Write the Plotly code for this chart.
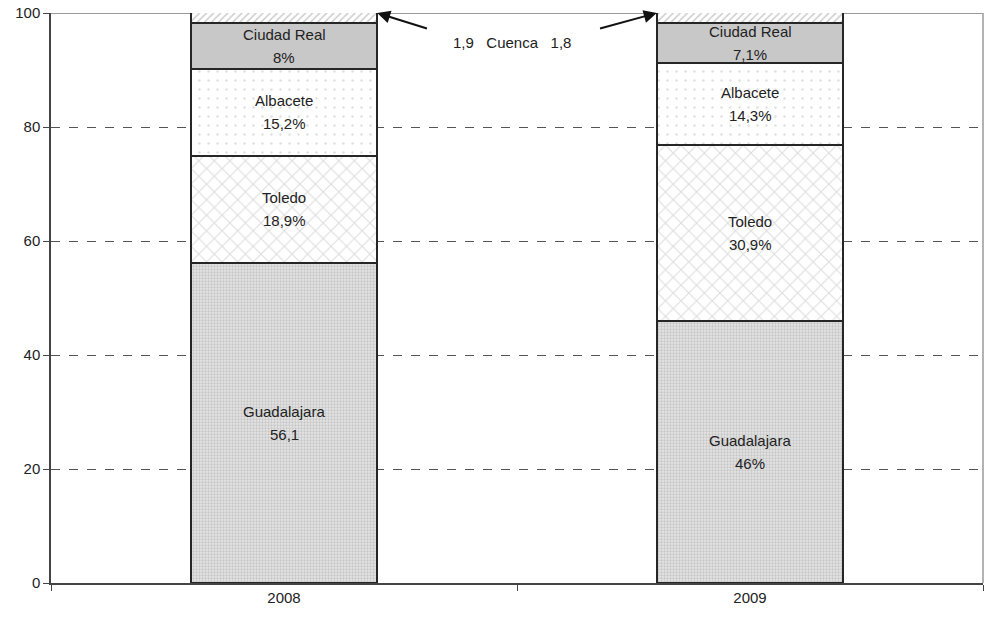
import plotly.graph_objects as go

years = ["2008", "2009"]
provinces = ["Guadalajara", "Toledo", "Albacete", "Ciudad Real", "Cuenca"]
values = {
    "Guadalajara": [56.1, 46.0],
    "Toledo": [18.9, 30.9],
    "Albacete": [15.2, 14.3],
    "Ciudad Real": [8.0, 7.1],
    "Cuenca": [1.9, 1.8],
}
name_text = {
    "Guadalajara": ["Guadalajara", "Guadalajara"],
    "Toledo": ["Toledo", "Toledo"],
    "Albacete": ["Albacete", "Albacete"],
    "Ciudad Real": ["Ciudad Real", "Ciudad Real"],
}
value_text = {
    "Guadalajara": ["56,1", "46%"],
    "Toledo": ["18,9%", "30,9%"],
    "Albacete": ["15,2%", "14,3%"],
    "Ciudad Real": ["8%", "7,1%"],
}
y_ticks = [0, 20, 40, 60, 80, 100]

FONT = "Liberation Sans, Arial"
LFONT = dict(family=FONT, size=15, color="#222")

styles = {
    "Guadalajara": dict(color="#dcdcdc", pattern=dict(shape=".", fgcolor="#a8a8a8", bgcolor="#e4e4e4", size=3, solidity=0.45)),
    "Toledo": dict(color="white", pattern=dict(shape="x", fgcolor="#bdbdbd", bgcolor="white", size=11, solidity=0.2)),
    "Albacete": dict(color="white", pattern=dict(shape=".", fgcolor="#c0c0c0", bgcolor="white", size=9, solidity=0.06)),
    "Ciudad Real": dict(color="#c8c8c8"),
    "Cuenca": dict(color="white", pattern=dict(shape="/", fgcolor="#9a9a9a", bgcolor="white", size=5, solidity=0.3)),
}

fig = go.Figure()
for p in provinces:
    fig.add_trace(go.Bar(
        x=years, y=values[p], name=p, width=0.4,
        marker=dict(line=dict(color="#262626", width=2), **styles[p]),
        hoverinfo="skip",
    ))

annotations = []
base = [0.0, 0.0]
for p in provinces:
    for i in range(2):
        if p in name_text:
            yc = base[i] + values[p][i] / 2
            annotations.append(dict(x=i, y=yc, xref="x", yref="y", text=name_text[p][i],
                                    showarrow=False, font=LFONT, yshift=11.5))
            annotations.append(dict(x=i, y=yc, xref="x", yref="y", text=value_text[p][i],
                                    showarrow=False, font=LFONT, yshift=-11.5))
        base[i] += values[p][i]

# Cuenca annotation
annotations.append(dict(
    x=0.49, y=94.9, xref="x", yref="y",
    text="1,9&nbsp;&nbsp;&nbsp;Cuenca&nbsp;&nbsp;&nbsp;1,8", showarrow=False, font=LFONT,
))
annotations.append(dict(
    x=0.2, y=100, xref="x", yref="y", ax=0.31, ay=97.2, axref="x", ayref="y",
    text="", showarrow=True, arrowhead=2, arrowsize=1.3, arrowwidth=2, arrowcolor="#111",
))
annotations.append(dict(
    x=0.8, y=100, xref="x", yref="y", ax=0.675, ay=97.2, axref="x", ayref="y",
    text="", showarrow=True, arrowhead=2, arrowsize=1.3, arrowwidth=2, arrowcolor="#111",
))

fig.update_layout(
    barmode="stack",
    width=984, height=621,
    margin=dict(l=51, r=1, t=13, b=38),
    paper_bgcolor="white", plot_bgcolor="white",
    showlegend=False,
    annotations=annotations,
    font=dict(family=FONT, size=15, color="#222"),
    xaxis=dict(
        type="category", range=[-0.5, 1.5], tickson="boundaries",
        ticks="outside", ticklen=6, tickcolor="#444",
        showline=True, linecolor="#444", linewidth=1.5,
        showgrid=False, tickfont=dict(family=FONT, size=15, color="#222"),
        automargin=False,
    ),
    yaxis=dict(
        range=[0, 100], tickvals=y_ticks,
        ticks="outside", ticklen=6, tickcolor="#444",
        showline=True, linecolor="#444", linewidth=1.5,
        showgrid=True, gridcolor="#555", griddash="dash", gridwidth=1,
        zeroline=False, tickfont=dict(family=FONT, size=15, color="#222"),
        automargin=False, ticklabeloverflow="allow",
    ),
    shapes=[
        dict(type="line", xref="paper", yref="y", x0=0, x1=1, y0=100, y1=100,
             line=dict(color="#9a9a9a", width=2), layer="below"),
        dict(type="line", xref="paper", yref="paper", x0=1, x1=1, y0=0, y1=1,
             line=dict(color="#9a9a9a", width=1.5), layer="below"),
    ],
)

fig.write_html(
    "out.html",
    config={"displayModeBar": False},
    post_script="document.body.style.margin='0';document.body.style.overflow='hidden';",
)
